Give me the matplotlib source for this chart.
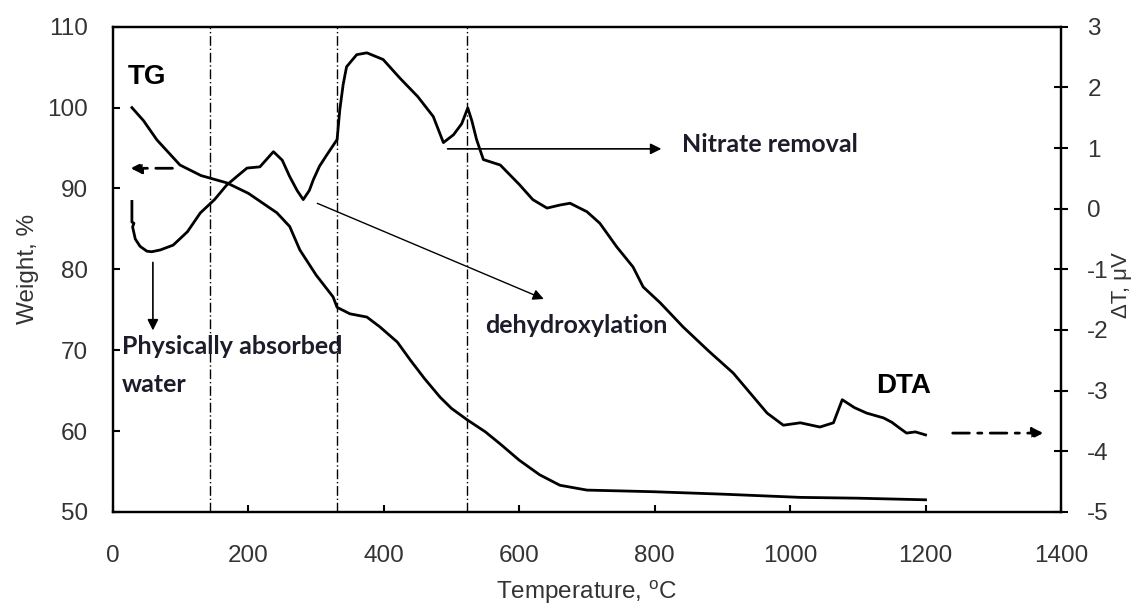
import matplotlib
matplotlib.use("Agg")
import matplotlib.pyplot as plt

# TG curve (left axis, weight %)
tg_temp = [28, 45, 65, 99, 130, 168, 200, 242, 261, 276, 300, 325, 331, 350, 375, 394,
           420, 439, 460, 483, 500, 523, 550, 572, 600, 630, 660, 700, 750, 798,
           900, 1015, 1100, 1200]
tg_weight = [100.0, 98.4, 96.0, 92.9, 91.6, 90.7, 89.4, 87.0, 85.3, 82.4, 79.3, 76.6,
             75.3, 74.5, 74.1, 72.9, 71.0, 68.8, 66.5, 64.2, 62.8, 61.4, 59.9, 58.4,
             56.4, 54.6, 53.3, 52.7, 52.6, 52.5, 52.2, 51.8, 51.7, 51.5]

# DTA curve (right axis, delta T in microvolts)
dta_temp = [28, 28, 31, 29, 33, 40, 50, 57, 70, 89, 110, 129, 150, 168, 185, 198,
            217, 237, 250, 261, 272, 281, 290, 296, 305, 316, 331, 335, 340, 345,
            360, 375, 399, 424, 450, 473, 488, 503, 515, 524, 530, 537, 547, 572,
            600, 620, 641, 660, 675, 700, 719, 744, 768, 783, 808, 842, 880, 916,
            966, 990, 1015, 1044, 1064, 1077, 1095, 1113, 1138, 1150, 1162, 1172,
            1185, 1200]
dta_signal = [0.12, -0.22, -0.24, -0.30, -0.50, -0.62, -0.70, -0.71, -0.68, -0.60,
              -0.38, -0.07, 0.15, 0.39, 0.55, 0.67, 0.69, 0.94, 0.80, 0.53, 0.30,
              0.15, 0.30, 0.48, 0.70, 0.89, 1.14, 1.63, 2.05, 2.34, 2.54, 2.57,
              2.46, 2.15, 1.85, 1.52, 1.09, 1.22, 1.40, 1.66, 1.45, 1.14, 0.81,
              0.72, 0.40, 0.15, 0.01, 0.06, 0.09, -0.05, -0.24, -0.63, -0.96,
              -1.29, -1.55, -1.95, -2.35, -2.71, -3.37, -3.57, -3.53, -3.60,
              -3.53, -3.15, -3.28, -3.37, -3.45, -3.52, -3.62, -3.70, -3.68, -3.73]

# Dashed markers for the decomposition stages
stage_temps = [143, 331, 523]

x_ticks = [0, 200, 400, 600, 800, 1000, 1200, 1400]
left_ticks = [50, 60, 70, 80, 90, 100, 110]
right_ticks = [-5, -4, -3, -2, -1, 0, 1, 2, 3]

plt.rcParams["font.family"] = ["Liberation Sans", "DejaVu Sans"]
plt.rcParams["mathtext.fontset"] = "custom"
plt.rcParams["mathtext.rm"] = "Liberation Sans"
plt.rcParams["axes.unicode_minus"] = False

fig = plt.figure(figsize=(11.34, 6.08), dpi=100)
ax = fig.add_axes([0.0996, 0.158, 0.836, 0.798])
ax2 = ax.twinx()

ax.plot(tg_temp, tg_weight, color="black", lw=2.0)
ax2.plot(dta_temp, dta_signal, color="black", lw=2.0)
for t in stage_temps:
    ax.axvline(t, color="black", lw=1.0, ls=(0, (7, 2, 1, 2)))

ax.set_xlim(0, 1400)
ax.set_ylim(50, 110)
ax2.set_ylim(-5, 3)
ax.set_xticks(x_ticks)
ax.set_yticks(left_ticks)
ax2.set_yticks(right_ticks)

tick_col = "#333333"
fs = 17.5
ax.tick_params(axis="x", direction="in", length=5, width=1.5, pad=24,
               labelsize=fs, labelcolor=tick_col, top=False)
ax.tick_params(axis="y", direction="in", length=5, width=1.5, pad=18,
               labelsize=fs, labelcolor=tick_col)
ax2.tick_params(axis="y", direction="inout", length=10, width=1.5, pad=14,
                labelsize=fs, labelcolor=tick_col)
for a in (ax, ax2):
    for s in a.spines.values():
        s.set_linewidth(1.6)

ax.set_xlabel(r"Temperature, $^{\rm o}$C", fontsize=fs, color=tick_col, labelpad=8)
ax.set_ylabel("Weight, %", fontsize=fs, color=tick_col, labelpad=6)
fig.text(1121 / 1134, 1 - 285 / 608, "\u0394T, \u03bcV", rotation=90, fontsize=16,
         color=tick_col, ha="center", va="center")

# labels and arrows
ax.text(22, 103.8, "TG", fontsize=20, fontweight="bold", ha="left", va="center")
ax2.text(1167, -2.92, "DTA", fontsize=20, fontweight="bold", ha="center", va="center")

note = dict(family=["Lato", "DejaVu Sans"], fontweight="bold", fontsize=18,
            color="#1c1c2a")
ax.text(13, 70.5, "Physically absorbed", ha="left", va="center", **note)
ax.text(13, 65.8, "water", ha="left", va="center", **note)
ax.text(550, 73.1, "dehydroxylation", ha="left", va="center", **note)
ax.text(840, 95.5, "Nitrate removal", ha="left", va="center", **note)

ax.annotate("", xy=(22, 92.5), xytext=(92, 92.5),
            arrowprops=dict(arrowstyle="-|>", color="black", lw=2.0,
                            ls=(0, (6, 3, 1.5, 3)), mutation_scale=16))
ax.annotate("", xy=(59, 72.1), xytext=(59, 81.2),
            arrowprops=dict(arrowstyle="-|>", color="black", lw=1.2,
                            mutation_scale=16))
ax.annotate("", xy=(640, 76.2), xytext=(298, 88.3),
            arrowprops=dict(arrowstyle="-|>", color="black", lw=1.0,
                            mutation_scale=16))
ax.annotate("", xy=(814, 94.9), xytext=(490, 94.9),
            arrowprops=dict(arrowstyle="-|>", color="black", lw=1.2,
                            mutation_scale=16))
ax.annotate("", xy=(1378, 59.75), xytext=(1236, 59.75),
            arrowprops=dict(arrowstyle="-|>", color="black", lw=2.0,
                            ls=(0, (6, 3, 1.5, 3)), mutation_scale=16))

fig.savefig("out.png", dpi=100)
